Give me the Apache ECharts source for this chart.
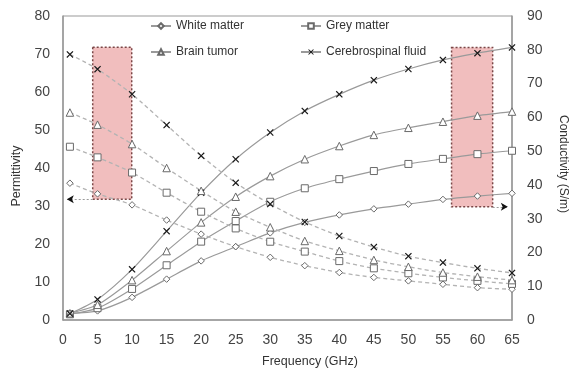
<!DOCTYPE html>
<html><head><meta charset="utf-8">
<script src="https://cdn.jsdelivr.net/npm/echarts@6/dist/echarts.min.js"></script>
<style>html,body{margin:0;padding:0;background:#fff}#c{width:570px;height:371px}</style>
</head><body><div id="c"></div>
<script>
const freq = [1,5,10,15,20,25,30,35,40,45,50,55,60,65];
const xTicks = [0,5,10,15,20,25,30,35,40,45,50,55,60,65];
const names = ['White matter','Grey matter','Brain tumor','Cerebrospinal fluid'];
const whiteEps = [36,33.2,30.3,26.3,22.6,19.3,16.5,14.3,12.5,11.2,10.3,9.4,8.5,8.1];
const greyEps = [45.6,42.8,38.8,33.5,28.5,24.1,20.6,18.0,15.5,13.6,12.3,11.2,10.3,9.5];
const tumorEps = [54.6,51.4,46.3,40,34,28.5,24.4,20.8,18.2,15.8,14.0,12.5,11.4,10.5];
const csfEps = [69.9,66,59.4,51.3,43.2,36.1,30.5,25.8,22.1,19.2,16.8,15.1,13.6,12.4];
const whiteSig = [2.0,2.7,6.7,12.1,17.5,21.7,25.8,28.9,31.1,32.9,34.3,35.7,36.7,37.5];
const greySig = [1.7,3.5,9.2,16.2,23.2,29.3,35,39,41.7,44.1,46.2,47.7,49.1,50.1];
const tumorSig = [2,4.5,11.8,20.4,28.9,36.5,42.6,47.6,51.5,54.8,56.9,58.7,60.5,61.7];
const csfSig = [1.9,6.1,15,26.3,37.7,47.6,55.5,61.9,66.8,71,74.3,77,79,80.7];
// highlight boxes: [xStart, xEnd, yTop, yBottom]
const boxLeft = [4.3, 9.95, 71.8, 31.8];   // permittivity axis
const boxRight = [56.25, 62.2, 80.7, 33.5]; // conductivity axis

const cross = 'path://M1.2,0L5,3.8L8.8,0L10,1.2L6.2,5L10,8.8L8.8,10L5,6.2L1.2,10L0,8.8L3.8,5L0,1.2Z';
const symbols = ['diamond','rect','triangle',cross];
const sizes = [6.5,7,7.5,7];
const pair = (ys) => ys.map((v,i)=>[freq[i],v]);
const epsArr = [whiteEps,greyEps,tumorEps,csfEps];
const sigArr = [whiteSig,greySig,tumorSig,csfSig];

function mk(i, data, axis, dashed) {
  const isCross = i === 3;
  return {
    name: dashed ? names[i] + ' ε' : names[i],
    type: 'line', yAxisIndex: axis, data: pair(data),
    smooth: 0.25, symbol: symbols[i], symbolSize: sizes[i], showSymbol: true,
    lineStyle: dashed ? {color:'#b3b3b3', width:1.3, type:[4,3]} : {color:'#9a9a9a', width:1.2},
    itemStyle: isCross ? {color:'#1a1a1a', borderWidth:0} : {color:'#fff', borderColor:'#6a6a6a', borderWidth:1},
    emphasis: {disabled:true}, z: 3
  };
}
const series = [];
for (let i=0;i<4;i++) series.push(mk(i, sigArr[i], 1, false));
for (let i=0;i<4;i++) series.push(mk(i, epsArr[i], 0, true));

const boxStyle = {color:'rgba(222,100,100,0.42)', borderColor:'#7a4646', borderWidth:1.5, borderType:[2,2]};
const arrowLine = {color:'#9a9a9a', type:[2,2], width:1.2};
series.push({
  name:'boxL', type:'line', yAxisIndex:0, data:[], silent:true,
  markArea:{silent:true, itemStyle:boxStyle, data:[[{coord:[boxLeft[0],boxLeft[2]]},{coord:[boxLeft[1],boxLeft[3]]}]]},
  markLine:{silent:true, symbol:['none','none'], label:{show:false}, lineStyle:arrowLine,
    data:[[{coord:[boxLeft[0],boxLeft[3]]},{coord:[0.6,boxLeft[3]]}]]},
  markPoint:{silent:true, symbol:'arrow', symbolSize:[6,7], symbolRotate:90, label:{show:false},
    itemStyle:{color:'#111'}, data:[{coord:[0.55,boxLeft[3]]}]},
  z:4
});
series.push({
  name:'boxR', type:'line', yAxisIndex:1, data:[], silent:true,
  markArea:{silent:true, itemStyle:boxStyle, data:[[{coord:[boxRight[0],boxRight[2]]},{coord:[boxRight[1],boxRight[3]]}]]},
  markLine:{silent:true, symbol:['none','none'], label:{show:false}, lineStyle:arrowLine,
    data:[[{coord:[boxRight[1],boxRight[3]]},{coord:[64.3,boxRight[3]]}]]},
  markPoint:{silent:true, symbol:'arrow', symbolSize:[6,7], symbolRotate:-90, label:{show:false},
    itemStyle:{color:'#111'}, data:[{coord:[64.4,boxRight[3]]}]},
  z:4
});

const font = 'Liberation Sans, Arial, sans-serif';
const lbl = {color:'#444', fontSize:14, fontFamily:font};
const nameStyle = {color:'#333', fontSize:12.5, fontFamily:font};
const legendCommon = {orient:'vertical', top:20, padding:0, itemWidth:20, itemHeight:7, itemGap:14,
  textStyle:{color:'#333', fontSize:12, fontFamily:font}, selectedMode:false};
const chart = echarts.init(document.getElementById('c'), null, {renderer:'canvas'});
chart.setOption({
  animation:false,
  backgroundColor:'#fff',
  grid:{left:63, right:58, top:16, bottom:51, show:true, borderColor:'#999', borderWidth:1,
    containLabel:false, outerBoundsMode:'none'},
  legend:[
    Object.assign({left:150, data:[names[0],names[2]]}, legendCommon),
    Object.assign({left:300, data:[names[1],names[3]]}, legendCommon)
  ],
  xAxis:{type:'value', min:0, max:65, interval:5, name:'Frequency (GHz)', nameLocation:'middle', nameGap:35,
    nameTextStyle:Object.assign({padding:[0,0,0,45]}, nameStyle),
    axisLine:{lineStyle:{color:'#999', width:1.5}}, axisTick:{show:false}, splitLine:{show:false},
    axisLabel:Object.assign({margin:13, formatter:(v)=> xTicks.includes(v)? String(v):''}, lbl)},
  yAxis:[
    {type:'value', min:0, max:80, interval:10, name:'Permittivity', nameLocation:'middle', nameGap:40,
      nameTextStyle:Object.assign({padding:[0,16,0,0]}, nameStyle),
      axisLine:{show:true, lineStyle:{color:'#999', width:1.5}}, axisTick:{show:false}, splitLine:{show:false},
      axisLabel:Object.assign({margin:13}, lbl)},
    {type:'value', min:0, max:90, interval:10, name:'Conductivity (S/m)', nameLocation:'middle', nameGap:45, nameRotate:-90,
      nameTextStyle:Object.assign({padding:[0,8,0,0], fontSize:12}, {color:'#333', fontFamily:font}),
      axisLine:{show:true, lineStyle:{color:'#999', width:1.5}}, axisTick:{show:false}, splitLine:{show:false},
      axisLabel:Object.assign({margin:15}, lbl)}
  ],
  series:series
});
</script></body></html>
